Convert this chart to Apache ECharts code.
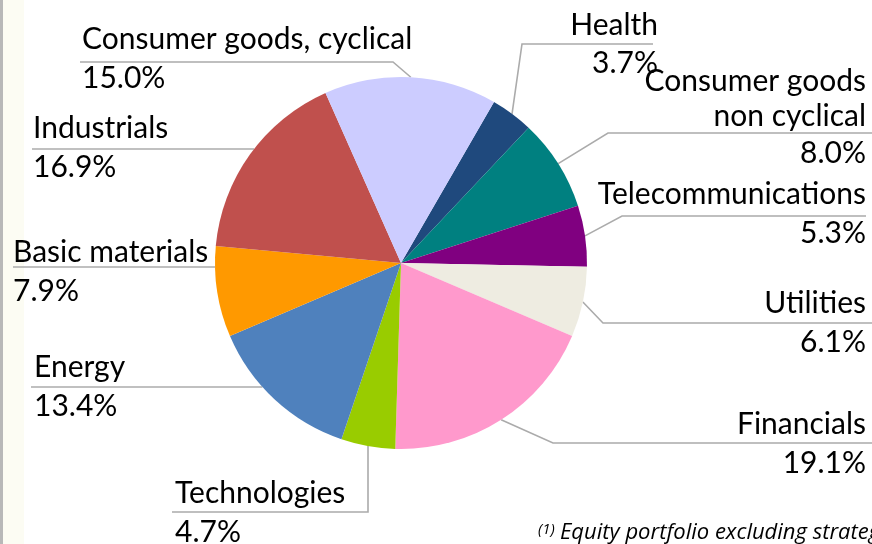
<!DOCTYPE html>
<html>
<head>
<meta charset="utf-8">
<script src="https://cdn.jsdelivr.net/npm/echarts@6/dist/echarts.min.js"></script>
<style>
  html, body { margin: 0; padding: 0; background: #fff; }
  #main { width: 872px; height: 544px; }
</style>
</head>
<body>
<div id="main"></div>
<script>
// sectors clockwise, starting at Health
var sectors = ['Health', 'Consumer goods\nnon cyclical', 'Telecommunications', 'Utilities', 'Financials',
  'Technologies', 'Energy', 'Basic materials', 'Industrials', 'Consumer goods, cyclical'];
var shares = [3.7, 8.0, 5.3, 6.1, 19.1, 4.7, 13.4, 7.9, 16.9, 15.0];
var sectorColors = ['#1F497D', '#008080', '#800080', '#EEECE1', '#FF99CC',
  '#99CC00', '#4F81BD', '#FF9900', '#C0504D', '#CCCCFF'];
var footnoteMark = '(1)';
var footnoteText = 'Equity portfolio excluding strategic holdings';

var CX = 401, CY = 263, R = 186;
var FONT = 'Lato';
var LH = 38.5;

// where each label sits: text anchor x, y of the underline, far end of underline,
// how the leader bends, and where the value baseline falls below the underline
var labelSpots = [
  { side: 'right', x: 658, lineY: 44, end: 653, bend: 522, vb: 29.5 },
  { side: 'right', x: 866, lineY: 133, end: 872, bend: 608, vb: 30 },
  { side: 'right', x: 866, lineY: 216, end: 866, bend: 622, vb: 27 },
  { side: 'right', x: 866, lineY: 323, end: 872, bend: 603, vb: 29 },
  { side: 'right', x: 866, lineY: 443, end: 872, bend: 553, vb: 30 },
  { side: 'left', x: 175, lineY: 512, end: 172, bend: 'vertical', vb: 30 },
  { side: 'left', x: 34, lineY: 387, end: 31, bend: 'flat', vb: 29 },
  { side: 'left', x: 13, lineY: 267, end: 13, bend: 'flat', vb: 34 },
  { side: 'left', x: 33, lineY: 149, end: 32, bend: 'flat', vb: 28 },
  { side: 'left', x: 82, lineY: 62, end: 80, bend: 393, vb: 26 }
];

var chart = echarts.init(document.getElementById('main'));

var pieData = sectors.map(function (name, i) {
  return { name: name, value: shares[i], itemStyle: { color: sectorColors[i] } };
});

chart.setOption({
  backgroundColor: '#fff',
  animation: false,
  graphic: [
    { type: 'rect', shape: { x: 3, y: 0, width: 21, height: 544 }, style: { fill: '#FCFCF3' }, silent: true },
    { type: 'rect', shape: { x: 0, y: 0, width: 3, height: 544 }, style: { fill: '#B8B8B8' }, silent: true },
    {
      type: 'text', x: 538, y: 522,
      style: { text: footnoteMark, fontSize: 15, fontStyle: 'italic', fontFamily: 'Open Sans', fill: '#000' }
    },
    {
      type: 'text', x: 560, y: 522,
      style: { text: footnoteText, fontSize: 22, fontStyle: 'italic', fontFamily: 'Open Sans', fill: '#000' }
    }
  ],
  series: [{
    type: 'pie',
    center: [CX, CY],
    radius: R,
    startAngle: 60,
    clockwise: true,
    avoidLabelOverlap: false,
    silent: true,
    data: pieData,
    label: {
      show: true,
      position: 'outer',
      color: '#000',
      fontFamily: FONT,
      formatter: function (p) {
        var parts = p.name.split('\n');
        var style = parts.length > 1 ? 'm' : 'n';
        var txt = parts.map(function (s) { return '{' + style + '|' + s + '}'; }).join('\n');
        return txt + '\n{v|' + p.value.toFixed(1) + '%}';
      },
      rich: {
        n: { fontFamily: FONT, fontSize: 30, lineHeight: LH, color: '#000' },
        m: { fontFamily: FONT, fontSize: 30, lineHeight: 35, color: '#000' },
        v: { fontFamily: FONT, fontSize: 30, lineHeight: LH, color: '#000' }
      }
    },
    labelLine: {
      show: true,
      smooth: false,
      lineStyle: { color: '#ABABAB', width: 1.6 }
    },
    labelLayout: function (params) {
      var s = labelSpots[params.dataIndex];
      var start = params.labelLinePoints ? params.labelLinePoints[0] : [CX, CY];
      var bend;
      if (s.bend === 'flat') {
        var dy = s.lineY - CY;
        var dx = Math.sqrt(Math.max(R * R - dy * dy, 0));
        start = [s.side === 'left' ? CX - dx : CX + dx, s.lineY];
        bend = start;
      } else if (s.bend === 'vertical') {
        bend = [start[0], s.lineY];
      } else {
        bend = [s.bend, s.lineY];
      }
      return {
        x: s.x,
        y: s.lineY + s.vb + (LH / 2 - 9.7),
        align: s.side,
        verticalAlign: 'bottom',
        labelLinePoints: [start, bend, [s.end, s.lineY]]
      };
    }
  }]
});
</script>
</body>
</html>
